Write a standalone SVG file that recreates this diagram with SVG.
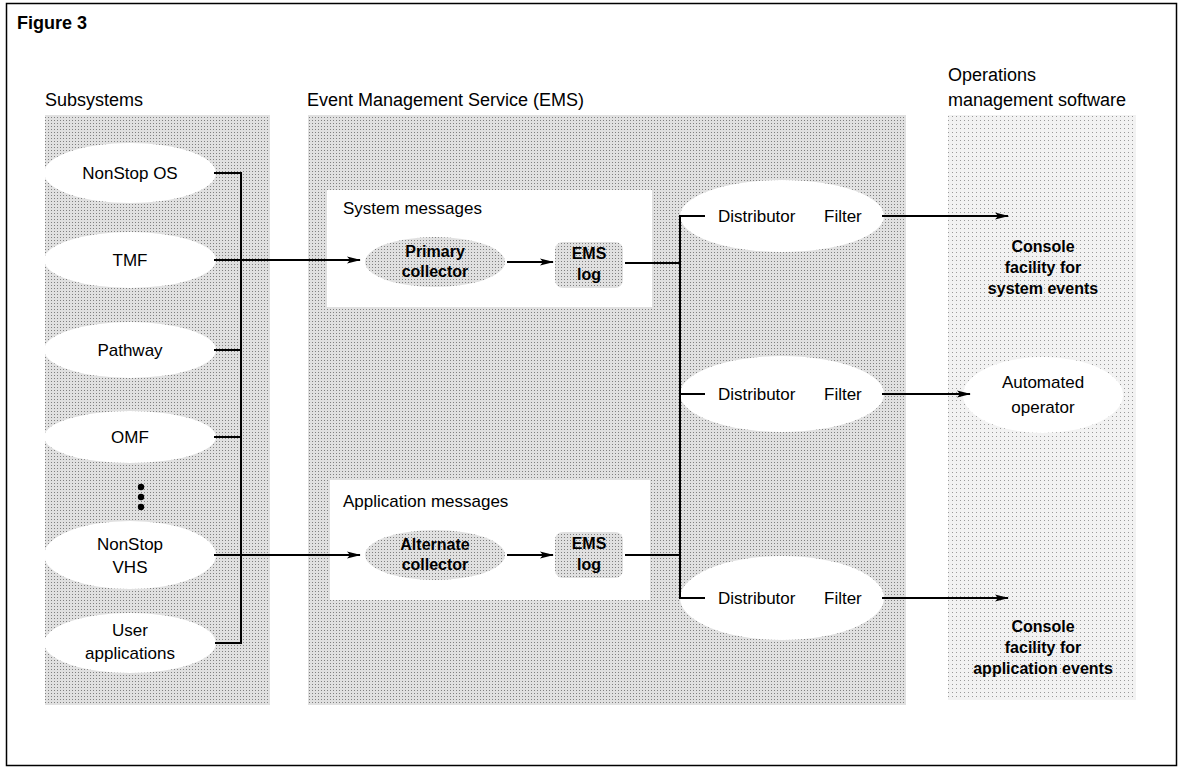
<svg xmlns="http://www.w3.org/2000/svg" width="1181" height="769" viewBox="0 0 1181 769">
<defs>
<pattern id="dots" width="3" height="3" patternUnits="userSpaceOnUse">
<rect width="3" height="3" fill="#e0e0e0"/>
<rect width="1" height="1" fill="#808080"/>
</pattern>
<pattern id="dotsLight" width="4" height="4" patternUnits="userSpaceOnUse">
<rect width="4" height="4" fill="#f2f2f2"/>
<rect width="1" height="1" fill="#9a9a9a"/>
</pattern>
<marker id="arr" markerWidth="14" markerHeight="8" refX="13" refY="4" orient="auto" markerUnits="userSpaceOnUse">
<path d="M0,0.5 L14,4 L0,7.5 L3,4 Z" fill="#000"/>
</marker>
</defs>
<style>
text{font-family:"Liberation Sans",Arial,sans-serif;font-size:17px;fill:#000}
.h{font-size:18px}
.b{font-weight:bold}
.bs{font-weight:bold;font-size:16px}
.w{fill:#fff;stroke:none}
.ln{stroke:#000;stroke-width:2;fill:none}
.panel{fill:url(#dots)}
.gnode{fill:url(#dots)}
</style>
<rect x="0" y="0" width="1181" height="769" fill="#fff"/>
<rect x="6.5" y="3.5" width="1170" height="762" fill="none" stroke="#000" stroke-width="1.5"/>
<text x="17" y="29" class="b" style="font-size:18px">Figure 3</text>

<g id="headers">
<text x="45" y="106" class="h">Subsystems</text>
<text x="307" y="106" class="h">Event Management Service (EMS)</text>
<text x="948" y="81" class="h">Operations</text>
<text x="948" y="106" class="h">management software</text>
</g>

<g id="panels">
<rect x="45" y="115" width="225" height="590" class="panel"/>
<rect x="308" y="115" width="598" height="590" class="panel"/>
<rect x="948" y="115" width="188" height="585" fill="url(#dotsLight)"/>
<ellipse cx="1043" cy="395" rx="80" ry="38" class="w"/>
</g>

<g id="subsystems">
<g id="n-nonstop-os"><ellipse cx="130" cy="173" rx="86" ry="30" class="w"/><text x="130" y="179" text-anchor="middle">NonStop OS</text></g>
<g id="n-tmf"><ellipse cx="130" cy="260" rx="86" ry="28" class="w"/><text x="130" y="266" text-anchor="middle">TMF</text></g>
<g id="n-pathway"><ellipse cx="130" cy="350" rx="86" ry="28" class="w"/><text x="130" y="356" text-anchor="middle">Pathway</text></g>
<g id="n-omf"><ellipse cx="130" cy="437" rx="86" ry="26" class="w"/><text x="130" y="443" text-anchor="middle">OMF</text></g>
<g id="n-dots"><circle cx="141" cy="487" r="3.2" fill="#000"/><circle cx="141" cy="497" r="3.2" fill="#000"/><circle cx="141" cy="507" r="3.2" fill="#000"/></g>
<g id="n-vhs"><ellipse cx="130" cy="555" rx="86" ry="34" class="w"/><text x="130" y="550" text-anchor="middle">NonStop</text><text x="130" y="573" text-anchor="middle">VHS</text></g>
<g id="n-user"><ellipse cx="130" cy="643" rx="86" ry="30" class="w"/><text x="130" y="636" text-anchor="middle">User</text><text x="130" y="659" text-anchor="middle">applications</text></g>
</g>

<g id="ems">
<g id="sys-box"><rect x="327" y="190" width="325" height="117" class="w"/><text x="343" y="214">System messages</text></g>
<g id="app-box"><rect x="330" y="480" width="320" height="120" class="w"/><text x="343" y="507">Application messages</text></g>
<g id="n-primary"><ellipse cx="435" cy="262" rx="70" ry="25" class="gnode"/><text x="435" y="257" text-anchor="middle" class="bs">Primary</text><text x="435" y="277" text-anchor="middle" class="bs">collector</text></g>
<g id="n-emslog1"><rect x="555" y="242" width="68" height="46" rx="8" class="gnode"/><text x="589" y="259" text-anchor="middle" class="bs">EMS</text><text x="589" y="280" text-anchor="middle" class="bs">log</text></g>
<g id="n-alternate"><ellipse cx="435" cy="555" rx="70" ry="25" class="gnode"/><text x="435" y="550" text-anchor="middle" class="bs">Alternate</text><text x="435" y="570" text-anchor="middle" class="bs">collector</text></g>
<g id="n-emslog2"><rect x="555" y="532" width="68" height="46" rx="8" class="gnode"/><text x="589" y="549" text-anchor="middle" class="bs">EMS</text><text x="589" y="570" text-anchor="middle" class="bs">log</text></g>
<g id="n-dist1"><ellipse cx="782" cy="216" rx="102" ry="36" class="w"/><text x="718" y="222">Distributor</text><text x="824" y="222">Filter</text></g>
<g id="n-dist2"><ellipse cx="782" cy="394" rx="102" ry="38" class="w"/><text x="718" y="400">Distributor</text><text x="824" y="400">Filter</text></g>
<g id="n-dist3"><ellipse cx="782" cy="598" rx="102" ry="42" class="w"/><text x="718" y="604">Distributor</text><text x="824" y="604">Filter</text></g>
</g>

<g id="operations">
<g id="n-console-sys"><text x="1043" y="252" text-anchor="middle" class="bs">Console</text><text x="1043" y="273" text-anchor="middle" class="bs">facility for</text><text x="1043" y="294" text-anchor="middle" class="bs">system events</text></g>
<g id="n-auto"><text x="1043" y="388" text-anchor="middle">Automated</text><text x="1043" y="413" text-anchor="middle">operator</text></g>
<g id="n-console-app"><text x="1043" y="632" text-anchor="middle" class="bs">Console</text><text x="1043" y="653" text-anchor="middle" class="bs">facility for</text><text x="1043" y="674" text-anchor="middle" class="bs">application events</text></g>
</g>

<g id="connectors">
<path class="ln" d="M214,173 H241 V643 H215"/>
<path class="ln" d="M214,350 H241 M214,437 H241"/>
<path class="ln" d="M214,260 H360" marker-end="url(#arr)"/>
<path class="ln" d="M214,555 H360" marker-end="url(#arr)"/>
<path class="ln" d="M507,262 H553" marker-end="url(#arr)"/>
<path class="ln" d="M507,555 H553" marker-end="url(#arr)"/>
<path class="ln" d="M625,263 H680 M625,555 H680"/>
<path class="ln" d="M705,216 H680 V598 H705 M680,394 H705"/>
<path class="ln" d="M882,216 H1008" marker-end="url(#arr)"/>
<path class="ln" d="M882,394 H970" marker-end="url(#arr)"/>
<path class="ln" d="M882,598 H1008" marker-end="url(#arr)"/>
</g>
</svg>
